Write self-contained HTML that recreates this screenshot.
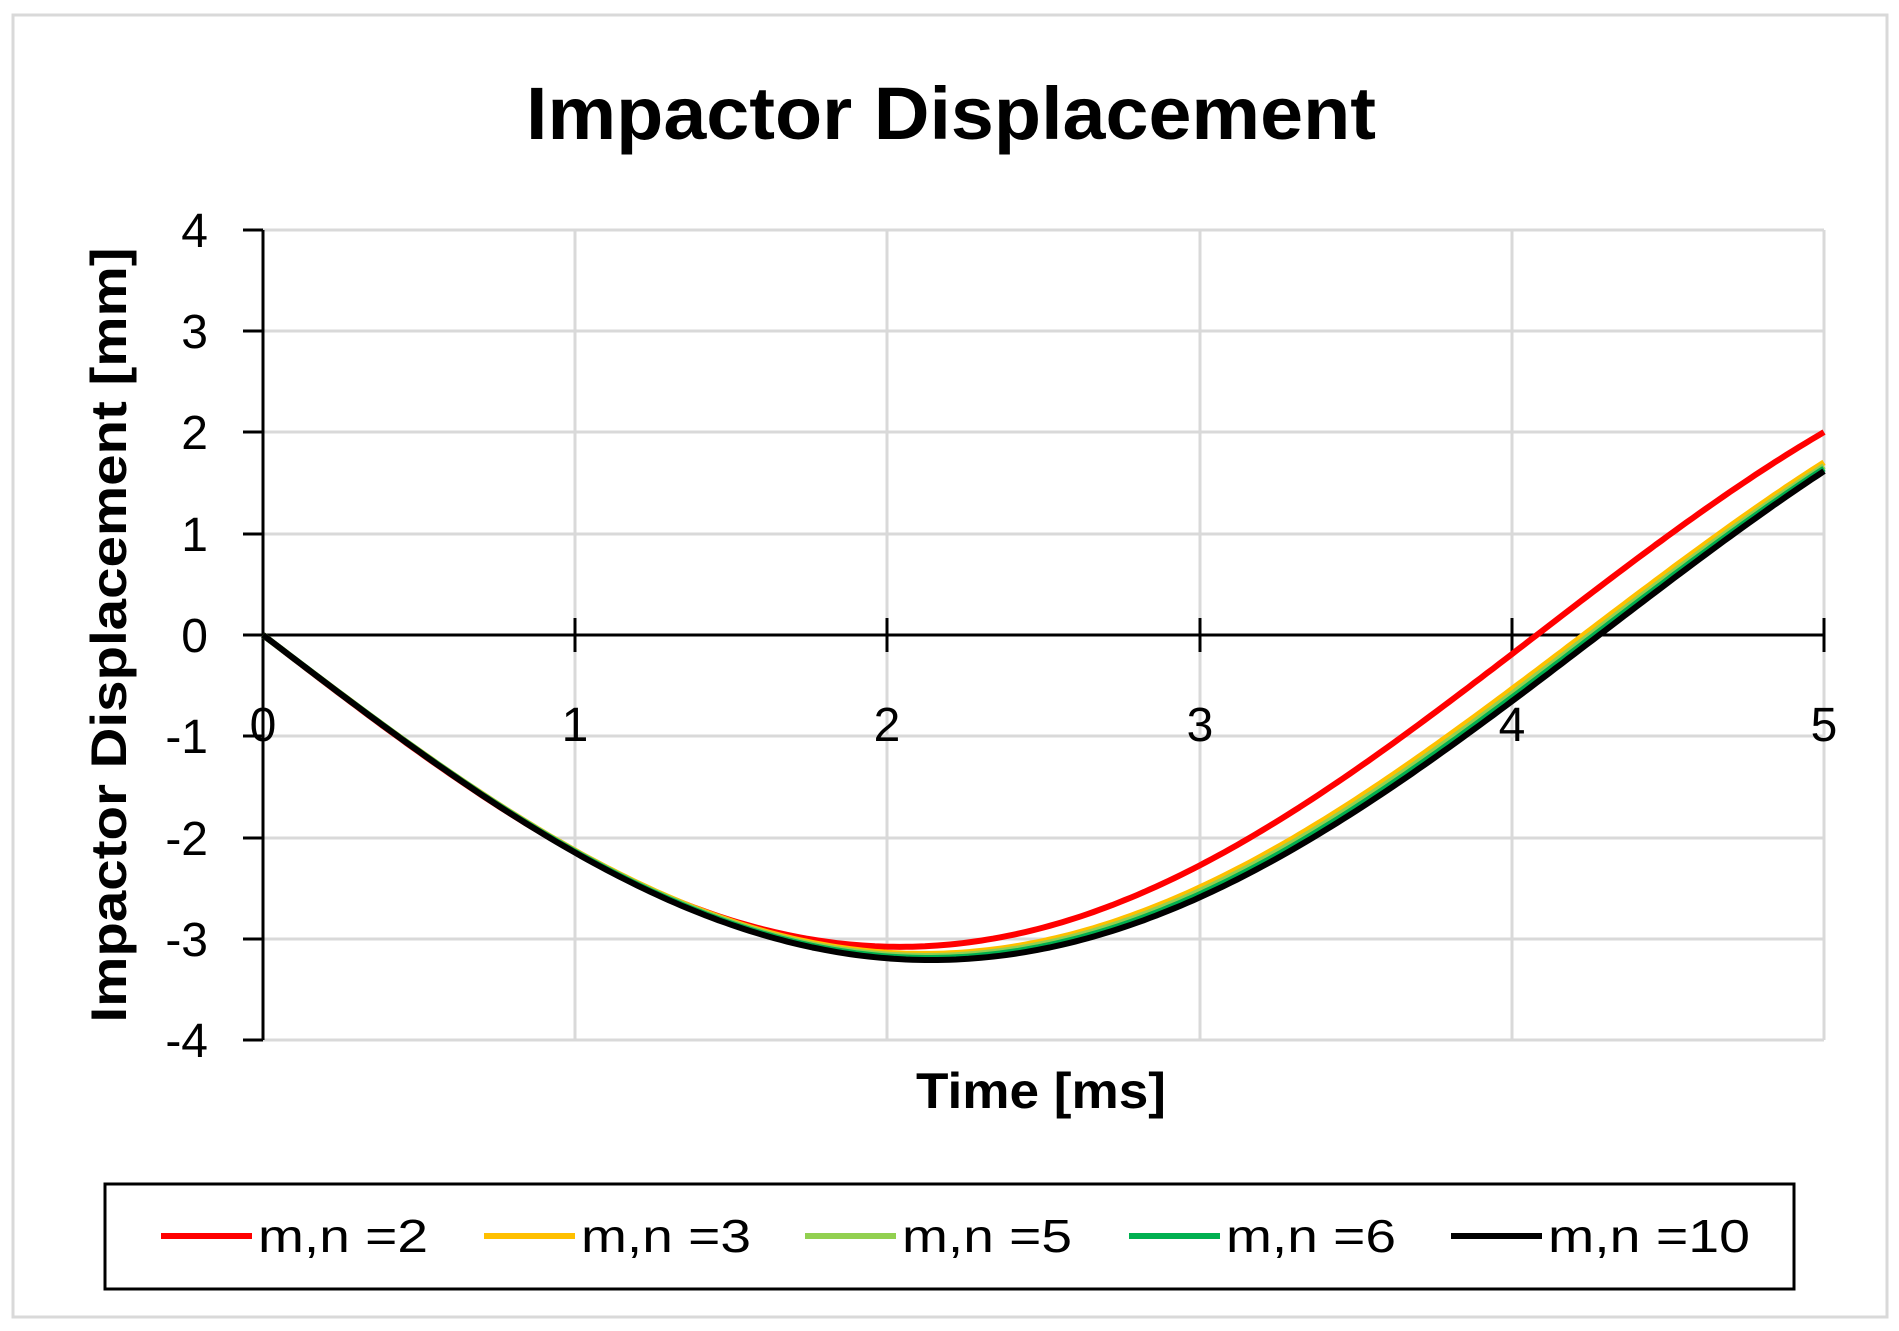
<!DOCTYPE html>
<html><head><meta charset="utf-8"><style>
html,body{margin:0;padding:0;background:#fff;}
svg{display:block;}
text{font-family:"Liberation Sans",sans-serif;}
</style></head><body>
<svg id="s" width="1899" height="1331" viewBox="0 0 1899 1331" xmlns="http://www.w3.org/2000/svg">
<rect x="0" y="0" width="1899" height="1331" fill="#fff"/>
<rect x="13" y="15" width="1874" height="1302" fill="#fff" stroke="#d9d9d9" stroke-width="3"/>
<text x="951" y="139" font-size="74" font-weight="bold" text-anchor="middle" textLength="850" lengthAdjust="spacingAndGlyphs">Impactor Displacement</text>
<g stroke="#d9d9d9" stroke-width="3">
<line x1="263" y1="230" x2="1824" y2="230"/>
<line x1="263" y1="331" x2="1824" y2="331"/>
<line x1="263" y1="432" x2="1824" y2="432"/>
<line x1="263" y1="534" x2="1824" y2="534"/>
<line x1="263" y1="736" x2="1824" y2="736"/>
<line x1="263" y1="838" x2="1824" y2="838"/>
<line x1="263" y1="939" x2="1824" y2="939"/>
<line x1="263" y1="1040" x2="1824" y2="1040"/>
<line x1="575" y1="230" x2="575" y2="1040"/>
<line x1="887" y1="230" x2="887" y2="1040"/>
<line x1="1200" y1="230" x2="1200" y2="1040"/>
<line x1="1512" y1="230" x2="1512" y2="1040"/>
<line x1="1824" y1="230" x2="1824" y2="1040"/>
</g>
<g stroke="#000" stroke-width="3">
<line x1="263" y1="230" x2="263" y2="1040"/>
<line x1="263" y1="635" x2="1824" y2="635"/>
<line x1="243" y1="230" x2="263" y2="230"/>
<line x1="243" y1="331" x2="263" y2="331"/>
<line x1="243" y1="432" x2="263" y2="432"/>
<line x1="243" y1="534" x2="263" y2="534"/>
<line x1="243" y1="635" x2="263" y2="635"/>
<line x1="243" y1="736" x2="263" y2="736"/>
<line x1="243" y1="838" x2="263" y2="838"/>
<line x1="243" y1="939" x2="263" y2="939"/>
<line x1="243" y1="1040" x2="263" y2="1040"/>
<line x1="575" y1="618" x2="575" y2="652"/>
<line x1="887" y1="618" x2="887" y2="652"/>
<line x1="1200" y1="618" x2="1200" y2="652"/>
<line x1="1512" y1="618" x2="1512" y2="652"/>
<line x1="1824" y1="618" x2="1824" y2="652"/>
</g>
<g font-size="48" text-anchor="end">
<text x="208" y="247">4</text>
<text x="208" y="348">3</text>
<text x="208" y="449">2</text>
<text x="208" y="551">1</text>
<text x="208" y="652">0</text>
<text x="208" y="753">-1</text>
<text x="208" y="855">-2</text>
<text x="208" y="956">-3</text>
<text x="208" y="1057">-4</text>
</g>
<g font-size="48" text-anchor="middle">
<text x="263" y="741">0</text>
<text x="575" y="741">1</text>
<text x="887" y="741">2</text>
<text x="1200" y="741">3</text>
<text x="1512" y="741">4</text>
<text x="1824" y="741">5</text>
</g>
<text x="0" y="0" font-size="50" font-weight="bold" text-anchor="middle" textLength="775" lengthAdjust="spacingAndGlyphs" transform="translate(126,635) rotate(-90)">Impactor Displacement [mm]</text>
<text x="1041" y="1108" font-size="50" font-weight="bold" text-anchor="middle" textLength="250" lengthAdjust="spacingAndGlyphs">Time [ms]</text>
<g id="curves" fill="none" stroke-width="6" stroke-linejoin="round"></g>
<rect x="105" y="1184" width="1689" height="105" fill="#fff" stroke="#000" stroke-width="3"/>
<g stroke-width="6">
<line x1="161" y1="1236" x2="252" y2="1236" stroke="#ff0000"/>
<line x1="484" y1="1236" x2="575" y2="1236" stroke="#ffc000"/>
<line x1="805" y1="1236" x2="896" y2="1236" stroke="#92d050"/>
<line x1="1129" y1="1236" x2="1220" y2="1236" stroke="#00b050"/>
<line x1="1451" y1="1236" x2="1542" y2="1236" stroke="#000"/>
</g>
<g font-size="46">
<text x="258" y="1252" textLength="170" lengthAdjust="spacingAndGlyphs">m,n =2</text>
<text x="581" y="1252" textLength="170" lengthAdjust="spacingAndGlyphs">m,n =3</text>
<text x="902" y="1252" textLength="170" lengthAdjust="spacingAndGlyphs">m,n =5</text>
<text x="1226" y="1252" textLength="170" lengthAdjust="spacingAndGlyphs">m,n =6</text>
<text x="1548" y="1252" textLength="202" lengthAdjust="spacingAndGlyphs">m,n =10</text>
</g>
</svg>
<script>
var series=[["#ff0000",3.08,4.08],["#ffc000",3.15,4.23],["#92d050",3.17,4.25],["#00b050",3.19,4.265],["#000",3.21,4.28]];
var g=document.getElementById("curves");
series.forEach(function(s){
 var w=Math.PI/s[2],d="";
 for(var i=0;i<=250;i++){var t=i*5/250;var v=-s[1]*Math.sin(w*t);
  var x=263+t*312.2,y=635-v*101.25;d+=(i?"L":"M")+x.toFixed(1)+","+y.toFixed(1);}
 var p=document.createElementNS("http://www.w3.org/2000/svg","path");
 p.setAttribute("d",d);p.setAttribute("stroke",s[0]);g.appendChild(p);
});
</script>
</body></html>
